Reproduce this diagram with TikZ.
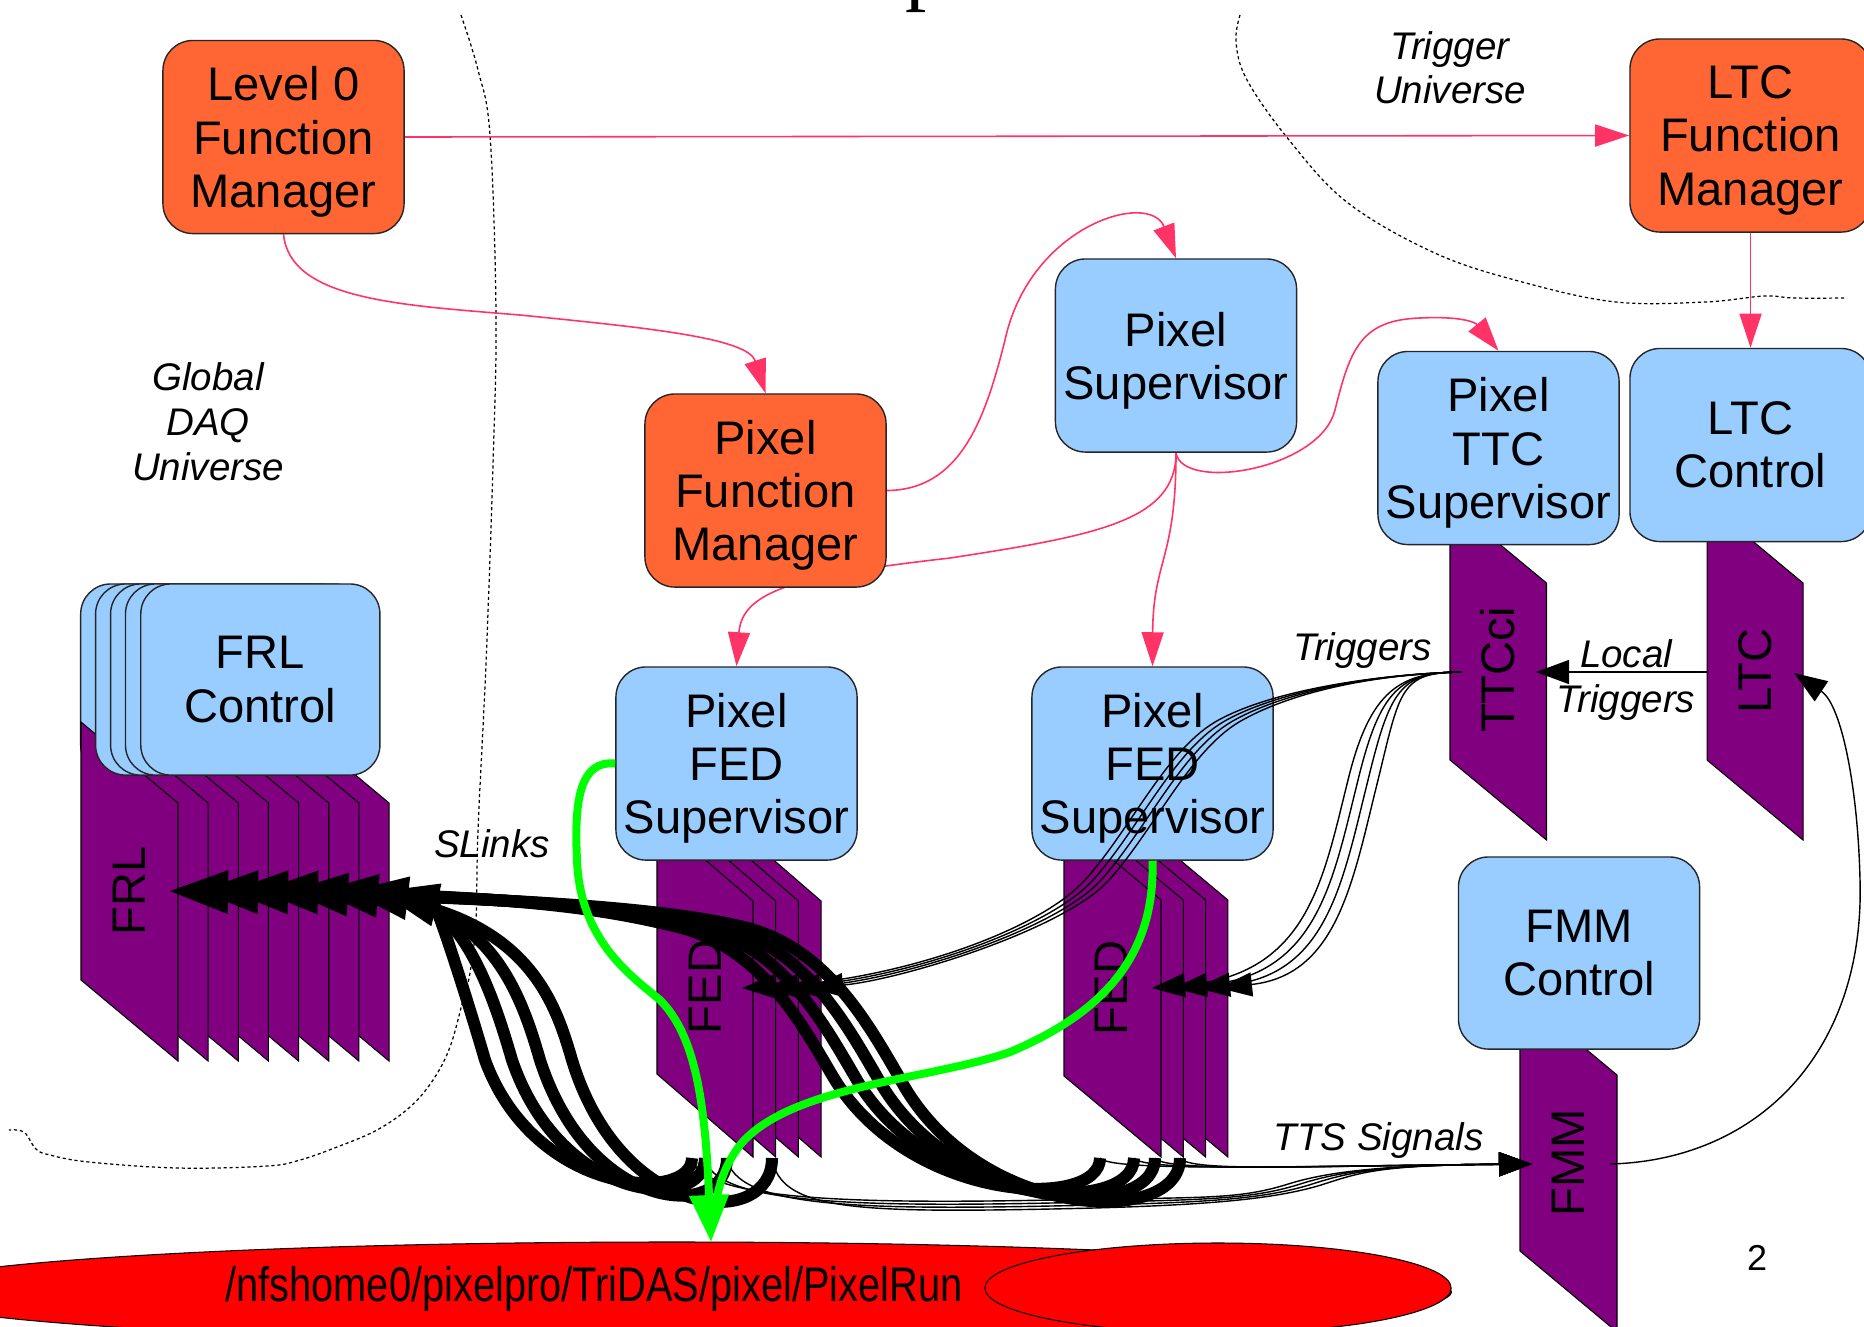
\documentclass[tikz,border=0pt]{standalone}
\usepackage{fontspec}
\setmainfont{Liberation Sans}
\newfontfamily\serifp{Liberation Serif}
\usetikzlibrary{arrows.meta,shapes.geometric}
\definecolor{orangeC}{HTML}{FF6633}
\definecolor{blueC}{HTML}{99CCFF}
\definecolor{purpleC}{HTML}{800080}
\definecolor{pinkC}{HTML}{FF3366}
\definecolor{greenC}{HTML}{00FF00}
\definecolor{redC}{HTML}{FF0000}
\newcommand\nodp[1]{\raisebox{0pt}[\height][0pt]{#1}}
\newcommand\boxfont{\fontsize{13.4pt}{15.1pt}\selectfont}
\newcommand\labfont{\fontsize{10.95pt}{12.66pt}\selectfont\itshape}
\pgfdeclarelayer{back}
\pgfsetlayers{back,main}
\begin{document}
\begin{tikzpicture}[x=0.01cm,y=-0.01cm,
 box/.style={draw=black!85, line width=0.4pt, rounded corners=0.3cm, minimum width=2.41cm, minimum height=1.93cm, inner sep=0pt, align=center, font=\boxfont},
 obox/.style={box, fill=orangeC},
 bbox/.style={box, fill=blueC},
 card/.style={fill=purpleC, draw=black, line width=0.3pt},
 cardlab/.style={rotate=90, inner sep=0pt, font=\boxfont},
 lab/.style={inner sep=0pt, align=center, font=\labfont},
 pinkarrow/.style={draw=pinkC, line width=0.45pt, -{Triangle[length=0.34cm,width=0.22cm]}},
 thinarrow/.style={draw=black, line width=0.4pt, -{Triangle[length=0.33cm,width=0.24cm]}},
 slink/.style={draw=black, line width=0.12cm, -{Triangle[length=0.6cm,width=0.4cm]}},
 greenline/.style={draw=greenC, line width=0.08cm},
 boundary/.style={draw=black, line width=0.35pt, dash pattern=on 0.9pt off 0.8pt},
 diskstyle/.style={ellipse, draw=black, line width=0.3pt, fill=redC, inner sep=0pt}
]
\useasboundingbox (0,0) rectangle (1864,1326);

% ---------- ellipses ----------
\node[diskstyle, minimum width=15.58cm, minimum height=1.0cm] (disk) at (672,1292) {};
\node[diskstyle, minimum width=4.66cm, minimum height=0.9cm] (disk2) at (1218,1288) {};
\node[inner sep=0pt, anchor=base, font=\fontsize{13.8pt}{16pt}\selectfont] (path) at (594,1301) {\scalebox{0.82}[1]{/nfshome0/pixelpro/TriDAS/pixel/PixelRun}};

% ---------- title fragment ----------
\node[anchor=base west, inner sep=0pt, font=\serifp\fontsize{24.2pt}{29pt}\selectfont] (title) at (905,-5.4) {p};

% ---------- FRL stack ----------
\node[bbox, minimum width=2.39cm, minimum height=1.91cm] (frlb0) at (200.25,679.5) {};
\foreach \kk in {7,6,...,0} {
  \pgfmathsetmacro\cL{81+30.15*\kk}
  \filldraw[card] (\cL,722) -- (\cL+97,803) -- (\cL+97,1061) -- (\cL,980) -- cycle;
}
\node[bbox, minimum width=2.39cm, minimum height=1.91cm] (frlb1) at (215.15,679.5) {};
\node[bbox, minimum width=2.39cm, minimum height=1.91cm] (frlb2) at (230.15,679.5) {};
\node[bbox, minimum width=2.39cm, minimum height=1.91cm] (frlb3) at (245.05,679.5) {};
\node[bbox, minimum width=2.39cm, minimum height=1.91cm] (frlc) at (260.35,679.5) {FRL\\Control};

% ---------- other cards ----------
\foreach \kk in {3,2,1,0} {
  \pgfmathsetmacro\cL{657+22.7*\kk}
  \filldraw[card] (\cL,818) -- (\cL+96,901) -- (\cL+96,1157) -- (\cL,1074) -- cycle;
  \pgfmathsetmacro\cM{1064+22.3*\kk}
  \filldraw[card] (\cM,819) -- (\cM+97,900) -- (\cM+97,1157) -- (\cM,1076) -- cycle;
}
\filldraw[card] (1450,503) -- (1546.5,583) -- (1546.5,840) -- (1450,760) -- cycle;
\filldraw[card] (1707,503) -- (1803,583) -- (1803,840) -- (1707,760) -- cycle;
\filldraw[card] (1520,994) -- (1617,1075) -- (1617,1332) -- (1520,1251) -- cycle;

% ---------- boxes ----------
\node[obox] (l0fm) at (283.5,137) {Level 0\\Function\\\nodp{Manager}};
\node[obox] (ltcfm) at (1750.5,135.5) {LTC\\Function\\\nodp{Manager}};
\node[obox] (pfm) at (765.5,490.5) {Pixel\\Function\\\nodp{Manager}};
\node[bbox] (psup) at (1176,355.5) {Pixel\\\nodp{Supervisor}};
\node[bbox] (pttc) at (1498.5,448) {Pixel\\TTC\\\nodp{Supervisor}};
\node[bbox] (ltcc) at (1750.5,445) {LTC\\Control};
\node[bbox] (fs1) at (736.5,763.5) {Pixel\\FED\\\nodp{Supervisor}};
\node[bbox] (fs2) at (1152.5,763.5) {Pixel\\FED\\\nodp{Supervisor}};
\node[bbox, minimum height=1.92cm] (fmmc) at (1579,953) {FMM\\Control};

% ---------- card labels ----------
\node[cardlab] (frl) at (129.5,891) {FRL};
\node[cardlab] (fed1) at (705,987) {FED};
\node[cardlab] (fed2) at (1111,988) {FED};
\node[cardlab] (ttcci) at (1497.5,670) {TTCci};
\node[cardlab] (ltc) at (1755,671) {LTC};
\node[cardlab] (fmm) at (1568,1163) {FMM};

% ---------- text labels ----------
\node[lab] (gdu) at (208,421.7) {Global\\DAQ\\Universe};
\node[lab] (tu) at (1450,67.7) {Trigger\\Universe};
\node[lab, anchor=base] (trg) at (1362.5,660) {Triggers};
\node[lab] (ltr) at (1626,676.2) {Local\\\nodp{Triggers}};
\node[lab, anchor=base] (sl) at (492,857) {SLinks};
\node[lab, anchor=base] (tts) at (1378.5,1150) {TTS Signals};
\node[inner sep=0pt, anchor=base, font=\fontsize{10.24pt}{12pt}\selectfont] (pg) at (1757,1270) {2};

% ---------- connection points ----------
\coordinate (ttcout) at (1461,672);
\coordinate (ttcin) at (1536,672);
\coordinate (ltcout) at (1707,672);
\coordinate (ltcin) at (1794,673);
\coordinate (fmmin) at (1532,1164);
\coordinate (fmmout) at (1610,1164);
\coordinate (gtip) at (711,1242);
\coordinate (gtipb) at (715,1210);
\foreach \kk in {0,...,7} \coordinate (frl\kk) at ({168+30*\kk},891);
\foreach \x [count=\j from 0] in {692,705,727,772} \coordinate (ha\j) at (\x,1158);
\foreach \x [count=\j from 0] in {1100,1134,1155,1180} \coordinate (hb\j) at (\x,1158);
\foreach \x [count=\j from 0] in {742,765,787,810} \coordinate (ta\j) at (\x,988);
\foreach \x [count=\j from 0] in {1152,1174,1197,1219} \coordinate (tb\j) at (\x,988);

% ---------- trigger lines ----------
\foreach \j in {0,...,3} {
  \pgfmathsetmacro\tdx{10*\j}
  \draw[thinarrow] (ttcout) .. controls (1400,672) and (1370+\tdx,690) .. (1348+\tdx,780)
     .. controls (1323+\tdx,880) and (1308+\tdx,975) .. (tb\j);
  \pgfmathsetmacro\tdy{8*\j}
  \draw[thinarrow] (ttcout) .. controls (1380,674) and (1270+\tdy,690) .. (1215+\tdy,722)
     .. controls (1165+\tdy,752) and (1130+\tdy,830) .. (1085+\tdy,880)
     .. controls (1040+\tdy,930) and (900,980) .. (ta\j);
}
% ---------- TTS lines ----------
\foreach \x [count=\j from 0] in {1100,1134,1155,1180}
  \draw[thinarrow] (hb\j) .. controls (\x+10,1172) and (1300,1166) .. (fmmin);
\foreach \x [count=\j from 0] in {692,705,727,772} {
  \pgfmathsetmacro\tsy{3*\j}
  \pgfmathsetmacro\tsx{12*\j}
  \draw[thinarrow] (ha\j) .. controls (\x+8,1200+\tsy) and (850,1204+\tsy) .. (1050,1200+\tsy)
     .. controls (1200,1197+\tsy) and (1235+\tsx,1200) .. (1285+\tsx,1185)
     .. controls (1325+\tsx,1172) and (1380,1165) .. (fmmin);
}
\draw[thinarrow] (ltcout) -- (ttcin);
\draw[thinarrow] (fmmout) .. controls (1760,1160) and (1865,1050) .. (1860,880)
   .. controls (1858,790) and (1842,705) .. (ltcin);

% ---------- SLinks ----------
\foreach \x/\by/\mx/\kk [count=\j from 0] in {692/1175/485/7, 705/1184/512/6, 727/1193/540/5, 772/1202/572/4}
  \draw[slink] (ha\j) .. controls (\x,\by+28) and (\mx+50,\by+22) .. (\mx,1060)
     .. controls (\mx-18,998) and (\mx-48,905) .. (frl\kk);
\foreach \x/\by/\mx/\kk [count=\j from 0] in {1100/1183/832/3, 1134/1189/854/2, 1155/1195/876/1, 1180/1201/898/0}
  \draw[slink] (hb\j) .. controls (\x,\by+28) and (\mx+75,\by+20) .. (\mx,1075)
     .. controls (\mx-30,1024) and (\mx-70,950) .. (\mx-150,928)
     .. controls (\mx-230,908) and (520,897) .. (frl\kk);

% ---------- green ----------
\draw[greenline, -{Triangle[length=0.47cm,width=0.38cm]}] (fs1.west) .. controls (580,760) and (574,800) .. (577,860)
   .. controls (580,940) and (630,975) .. (660,1000)
   .. controls (695,1035) and (705,1100) .. (gtip);
\draw[greenline] (fs2.south) .. controls (1155,950) and (1110,1010) .. (1010,1052)
   .. controls (930,1080) and (790,1085) .. (740,1145)
   .. controls (725,1165) and (718,1185) .. (gtipb);

% ---------- background layer ----------
\begin{pgfonlayer}{back}
\fill[white] (0,0) rectangle (1864,1326);
\draw[boundary] plot[smooth, tension=0.6] coordinates {(461,15) (478,70) (490,135) (496,313) (493,465) (486,663) (478,830) (476,920) (470,973) (463,1000) (450,1047) (433,1080) (410,1107) (377,1130) (337,1147) (300,1160) (267,1166) (178,1168) (89,1162) (50,1155) (36,1149) (24,1132) (9,1130)};
\draw[boundary] plot[smooth, tension=0.6] coordinates {(1240,15) (1236,42) (1247,80) (1289,140) (1348,203) (1437,254) (1526,283) (1616,302) (1705,302) (1764,296) (1794,298) (1847,298)};
\draw[pinkarrow] (l0fm.east) -- (ltcfm.west);
\draw[pinkarrow] (l0fm.south) .. controls (290,300) and (400,305) .. (520,315)
   .. controls (650,328) and (748,338) .. (pfm.north);
\draw[pinkarrow] (pfm.east) .. controls (960,490) and (985,420) .. (1005,340)
   .. controls (1030,225) and (1150,190) .. (psup.north);
\draw[pinkarrow] (psup.south) .. controls (1182,492) and (1320,470) .. (1335,410)
   .. controls (1350,350) and (1360,320) .. (1420,318)
   .. controls (1460,316) and (1475,322) .. (pttc.north);
\draw[pinkarrow] (psup.south) .. controls (1176,520) and (1100,535) .. (950,558)
   .. controls (800,575) and (742,590) .. (fs1.north);
\draw[pinkarrow] (psup.south) .. controls (1176,560) and (1153,560) .. (fs2.north);
\draw[pinkarrow] (ltcfm.south) -- (ltcc.north);
\end{pgfonlayer}
\end{tikzpicture}
\end{document}
